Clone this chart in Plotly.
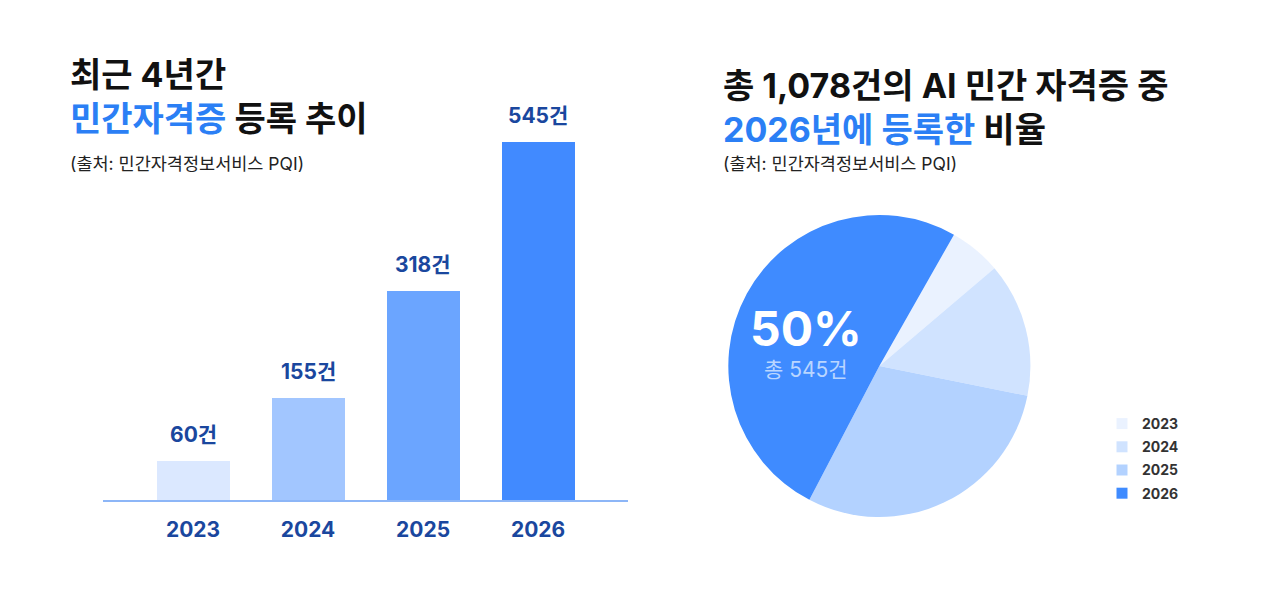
import plotly.graph_objects as go

years = ["2023", "2024", "2025", "2026"]
counts = [60, 155, 318, 545]
bar_labels = ["60건", "155건", "318건", "545건"]
bar_colors = ["#DBE8FF", "#A2C6FF", "#6BA5FF", "#418AFF"]
pie_colors = ["#EAF2FF", "#D0E3FF", "#B3D2FF", "#3F8BFF"]

FONT = "Inter, 'Noto Sans CJK KR', sans-serif"
DARK_BLUE = "#1A479E"
BLUE = "#2B7FF5"

fig = go.Figure()

fig.add_trace(go.Bar(
    x=years, y=counts, marker=dict(color=bar_colors, line=dict(width=0)),
    width=0.635, showlegend=False, hoverinfo="skip",
    xaxis="x", yaxis="y",
))

fig.add_trace(go.Pie(
    labels=years, values=counts, sort=False, direction="clockwise",
    rotation=29.6, marker=dict(colors=pie_colors, line=dict(width=0)),
    textinfo="none", hoverinfo="skip",
    domain=dict(x=[0.569, 0.805], y=[0.138, 0.642]),
    showlegend=False,
))

# legend entries matching pie slices
for yr, col in zip(years, pie_colors):
    fig.add_trace(go.Scatter(
        x=[None], y=[None], mode="markers", name=yr, legendgroup=yr,
        marker=dict(symbol="square", size=11, color=col),
        showlegend=True, hoverinfo="skip", xaxis="x", yaxis="y",
    ))

annotations = []
for i, (c, lab) in enumerate(zip(counts, bar_labels)):
    annotations.append(dict(
        x=i, y=c, xref="x", yref="y", text=f"<b>{lab}</b>", showarrow=False,
        yanchor="bottom", yshift=12,
        font=dict(family=FONT, size=21, color=DARK_BLUE),
    ))

annotations += [
    dict(x=68/1280, y=1 - 52/600, xref="paper", yref="paper", xanchor="left", yanchor="top",
         align="left", showarrow=False,
         text="<b>최근 4년간</b><br><b><span style='color:%s'>민간자격증</span> 등록 추이</b>" % BLUE,
         font=dict(family=FONT, size=34, color="#111111")),
    dict(x=68/1280, y=1 - 163/600, xref="paper", yref="paper", xanchor="left", yanchor="middle",
         showarrow=False, text="(출처: 민간자격정보서비스 PQI)",
         font=dict(family=FONT, size=17.5, color="#222222")),
    dict(x=721/1280, y=1 - 63/600, xref="paper", yref="paper", xanchor="left", yanchor="top",
         align="left", showarrow=False,
         text="<b>총 1,078건의 AI 민간 자격증 중</b><br><b><span style='color:%s'>2026년에 등록한</span> 비율</b>" % BLUE,
         font=dict(family=FONT, size=34, color="#111111")),
    dict(x=721/1280, y=1 - 163/600, xref="paper", yref="paper", xanchor="left", yanchor="middle",
         showarrow=False, text="(출처: 민간자격정보서비스 PQI)",
         font=dict(family=FONT, size=17.5, color="#222222")),
    dict(x=806/1280, y=1 - 328/600, xref="paper", yref="paper", xanchor="center", yanchor="middle",
         showarrow=False, text="<b>50%</b>",
         font=dict(family=FONT, size=48, color="#FFFFFF")),
    dict(x=806/1280, y=1 - 369/600, xref="paper", yref="paper", xanchor="center", yanchor="middle",
         showarrow=False, text="총 545건",
         font=dict(family=FONT, size=21, color="#BAD6FF")),
]

fig.update_layout(
    width=1280, height=600,
    margin=dict(l=0, r=0, t=0, b=0),
    paper_bgcolor="white", plot_bgcolor="white",
    font=dict(family=FONT),
    xaxis=dict(domain=[103/1280, 628/1280], range=[-0.783, 3.782], type="category",
               showline=True, linecolor="#8DB6F7", linewidth=1.5, showgrid=False,
               zeroline=False, ticks="", ticklabelstandoff=10,
               tickfont=dict(family=FONT, size=21, color=DARK_BLUE, weight="bold"),
               fixedrange=True),
    yaxis=dict(domain=[100/600, 458/600], range=[0, 545], visible=False,
               showgrid=False, zeroline=False, fixedrange=True),
    legend=dict(x=1102/1280, y=1 - 408/600, xanchor="left", yanchor="top",
                font=dict(family=FONT, size=14, color="#333333", weight="bold"),
                tracegroupgap=2, itemwidth=30, bgcolor="rgba(0,0,0,0)"),
    annotations=annotations,
    bargap=0,
)

fig.write_html("out.html")
